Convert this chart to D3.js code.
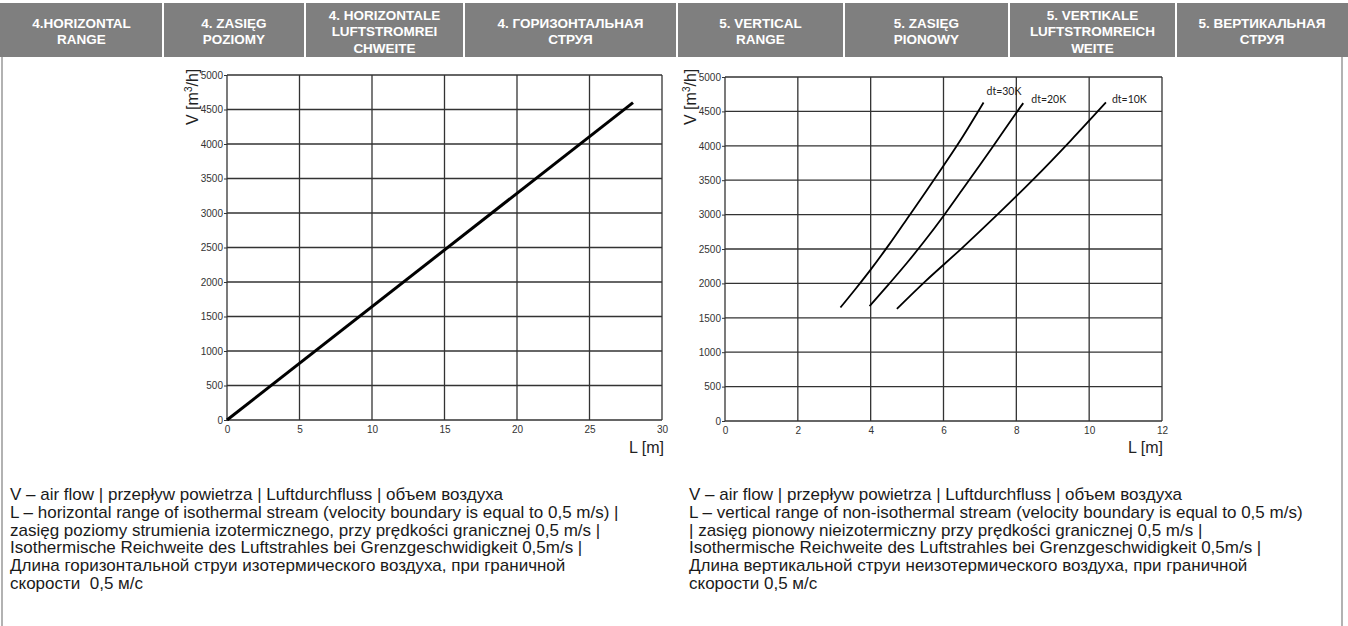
<!DOCTYPE html>
<html>
<head>
<meta charset="utf-8">
<script src="https://cdn.jsdelivr.net/npm/d3@7.9.0/dist/d3.min.js"></script>
<style>
  html, body { margin: 0; padding: 0; background: #fff; }
  svg { display: block; }
  .hdr { font-family: "Liberation Sans", Arial, sans-serif; font-weight: bold; font-size: 13.5px; fill: #fff; }
  .tick text { font-family: "Liberation Sans", Arial, sans-serif; font-size: 10px; fill: #333; }
  .note { font-family: "Liberation Sans", Arial, sans-serif; font-size: 17px; fill: #1a1a1a; white-space: pre; }
  .axlab { font-family: "Liberation Sans", Arial, sans-serif; font-size: 16px; fill: #222; }
  .dt { font-family: Lato, "Open Sans", sans-serif; font-size: 10.5px; fill: #222; }
</style>
</head>
<body>
<svg id="chart" width="1348" height="626"></svg>
<script>
// header cells
const headerCells = [
  ['4.HORIZONTAL', 'RANGE'],
  ['4. ZASIĘG', 'POZIOMY'],
  ['4. HORIZONTALE', 'LUFTSTROMREI', 'CHWEITE'],
  ['4. ГОРИЗОНТАЛЬНАЯ', 'СТРУЯ'],
  ['5. VERTICAL', 'RANGE'],
  ['5. ZASIĘG', 'PIONOWY'],
  ['5. VERTIKALE', 'LUFTSTROMREICH', 'WEITE'],
  ['5. ВЕРТИКАЛЬНАЯ', 'СТРУЯ'],
];

// horizontal range chart
const horizontalTicksX = [0, 5, 10, 15, 20, 25, 30];
const volumeTicks = [0, 500, 1000, 1500, 2000, 2500, 3000, 3500, 4000, 4500, 5000];
const horizontalL = [0, 28];
const horizontalV = [0, 4600];

// vertical range chart
const verticalTicksX = [0, 2, 4, 6, 8, 10, 12];
const dt30L = [3.17, 3.6, 4.0, 4.5, 5.0, 5.5, 6.0, 6.5, 7.1];
const dt30V = [1650, 1930, 2200, 2560, 2940, 3320, 3710, 4110, 4630];
const dt20L = [3.97, 4.5, 5.0, 5.5, 6.0, 6.5, 7.0, 7.5, 8.0, 8.19];
const dt20V = [1670, 1990, 2300, 2630, 2980, 3350, 3720, 4100, 4480, 4620];
const dt10L = [4.72, 5.5, 6.5, 7.5, 8.5, 9.5, 10.46];
const dt10V = [1630, 2030, 2510, 3010, 3530, 4080, 4630];
const curveNames = ['dt=30K', 'dt=20K', 'dt=10K'];

const noteLeft = [
  'V – air flow | przepływ powietrza | Luftdurchfluss | объем воздуха',
  'L – horizontal range of isothermal stream (velocity boundary is equal to 0,5 m/s) |',
  'zasięg poziomy strumienia izotermicznego, przy prędkości granicznej 0,5 m/s |',
  'Isothermische Reichweite des Luftstrahles bei Grenzgeschwidigkeit 0,5m/s |',
  'Длина горизонтальной струи изотермического воздуха, при граничной',
  'скорости  0,5 м/с',
];
const noteRight = [
  'V – air flow | przepływ powietrza | Luftdurchfluss | объем воздуха',
  'L – vertical range of non-isothermal stream (velocity boundary is equal to 0,5 m/s)',
  '| zasięg pionowy nieizotermiczny przy prędkości granicznej 0,5 m/s |',
  'Isothermische Reichweite des Luftstrahles bei Grenzgeschwidigkeit 0,5m/s |',
  'Длина вертикальной струи неизотермического воздуха, при граничной',
  'скорости 0,5 м/с',
];

const svg = d3.select('#chart');
const colEdges = [0, 163, 305, 464, 677, 844, 1009, 1176, 1348];

// header band
svg.append('rect')
  .attr('x', 0).attr('y', 3).attr('width', 1348).attr('height', 54)
  .attr('fill', '#7f7f7f');

headerCells.forEach((lines, i) => {
  const x0 = colEdges[i];
  const x1 = colEdges[i + 1];
  if (i > 0) {
    svg.append('line')
      .attr('x1', x0).attr('x2', x0).attr('y1', 3).attr('y2', 57)
      .attr('stroke', '#fff').attr('stroke-width', 2);
  }
  const lineH = 16.5;
  const startY = 31 - ((lines.length - 1) * lineH) / 2 + 5;
  const t = svg.append('text').attr('class', 'hdr').attr('text-anchor', 'middle');
  lines.forEach((s, j) => {
    t.append('tspan').attr('x', (x0 + x1) / 2).attr('y', startY + j * lineH).text(s);
  });
});

// body borders
svg.append('line').attr('x1', 2).attr('x2', 2).attr('y1', 57).attr('y2', 626)
  .attr('stroke', '#999').attr('stroke-width', 1.5);
svg.append('line').attr('x1', 1342).attr('x2', 1342).attr('y1', 57).attr('y2', 626)
  .attr('stroke', '#999').attr('stroke-width', 1.5);

function drawGrid(x, y, xTicks, yTicks) {
  const g = svg.append('g');
  g.selectAll('line.v').data(xTicks).join('line')
    .attr('x1', (d) => x(d)).attr('x2', (d) => x(d))
    .attr('y1', y.range()[0]).attr('y2', y.range()[1])
    .attr('stroke', '#333').attr('stroke-width', 1.3);
  g.selectAll('line.h').data(yTicks).join('line')
    .attr('x1', x.range()[0]).attr('x2', x.range()[1])
    .attr('y1', (d) => y(d)).attr('y2', (d) => y(d))
    .attr('stroke', '#333').attr('stroke-width', 1.3);

  const yAxis = svg.append('g')
    .attr('transform', `translate(${x.range()[0]},0)`)
    .call(d3.axisLeft(y).tickValues(yTicks).tickSize(3).tickPadding(1).tickFormat(d3.format('d')));
  yAxis.select('.domain').remove();
  yAxis.selectAll('.tick line').attr('stroke', '#333');

  const xAxis = svg.append('g')
    .attr('transform', `translate(0,${y.range()[0]})`)
    .call(d3.axisBottom(x).tickValues(xTicks).tickSize(0).tickPadding(6).tickFormat(d3.format('d')));
  xAxis.select('.domain').remove();
}

function drawLabels(yLabelX, xLabelRight) {
  const yl = svg.append('text').attr('class', 'axlab')
    .attr('transform', `translate(${yLabelX},125) rotate(-90)`);
  yl.append('tspan').text('V [m');
  yl.append('tspan').attr('font-size', '10px').attr('dy', -6).text('3');
  yl.append('tspan').attr('dy', 6).text('/h]');

  svg.append('text').attr('class', 'axlab')
    .attr('x', xLabelRight).attr('y', 453).attr('text-anchor', 'end')
    .text('L [m]');
}

// left chart
const xH = d3.scaleLinear().domain([0, 30]).range([227, 662]);
const yH = d3.scaleLinear().domain([0, 5000]).range([420, 75]);
drawGrid(xH, yH, horizontalTicksX, volumeTicks);
drawLabels(198, 664);

svg.append('path')
  .datum(horizontalL.map((l, i) => [l, horizontalV[i]]))
  .attr('fill', 'none').attr('stroke', '#000').attr('stroke-width', 3)
  .attr('d', d3.line().x((d) => xH(d[0])).y((d) => yH(d[1])));

// right chart
const xV = d3.scaleLinear().domain([0, 12]).range([725, 1162]);
const yV = d3.scaleLinear().domain([0, 5000]).range([421, 77]);
drawGrid(xV, yV, verticalTicksX, volumeTicks);
drawLabels(696, 1163);

const curves = [
  { name: curveNames[0], L: dt30L, V: dt30V, dx: 3, dy: -7 },
  { name: curveNames[1], L: dt20L, V: dt20V, dx: 8, dy: 0 },
  { name: curveNames[2], L: dt10L, V: dt10V, dx: 6, dy: 1 },
];
const curveLine = d3.line()
  .x((d) => xV(d[0])).y((d) => yV(d[1]))
  .curve(d3.curveCatmullRom.alpha(0.5));

curves.forEach((c) => {
  const pts = c.L.map((l, i) => [l, c.V[i]]);
  svg.append('path')
    .datum(pts)
    .attr('fill', 'none').attr('stroke', '#000').attr('stroke-width', 1.8)
    .attr('d', curveLine);
  const last = pts[pts.length - 1];
  svg.append('text').attr('class', 'dt')
    .attr('x', xV(last[0]) + c.dx).attr('y', yV(last[1]) + c.dy)
    .text(c.name);
});

// notes
function drawNote(lines, x) {
  const t = svg.append('text').attr('class', 'note');
  lines.forEach((s, i) => {
    t.append('tspan').attr('x', x).attr('y', 500 + i * 17.8).text(s);
  });
}
drawNote(noteLeft, 10);
drawNote(noteRight, 689);
</script>
</body>
</html>
